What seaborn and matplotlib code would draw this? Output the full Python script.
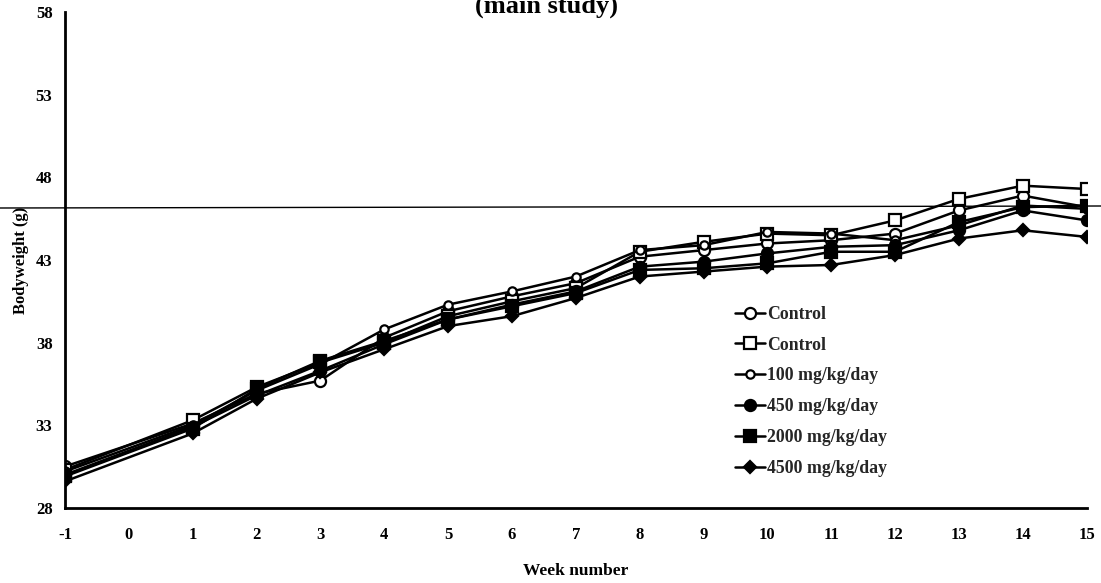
import matplotlib
matplotlib.use("Agg")
import matplotlib.pyplot as plt
import seaborn as sns
import pandas as pd
from matplotlib.lines import Line2D

weeks = [-1, 1, 2, 3, 4, 5, 6, 7, 8, 9, 10, 11, 12, 13, 14, 15]
control_circle = [30.5, 33.1, 34.9, 35.7, 38.3, 39.9, 40.8, 41.6, 43.2, 43.6, 44.0, 44.2, 44.6, 46.0, 46.9, 46.2]
control_square = [30.3, 33.3, 35.3, 36.8, 38.0, 39.6, 40.5, 41.3, 43.5, 44.1, 44.6, 44.5, 45.4, 46.7, 47.5, 47.3]
dose_100 = [30.2, 33.0, 35.1, 36.7, 38.8, 40.3, 41.1, 42.0, 43.6, 43.9, 44.7, 44.6, 44.2, 45.1, 46.3, 46.1]
dose_450 = [30.0, 32.9, 34.8, 36.3, 37.9, 39.4, 40.3, 41.1, 42.6, 42.9, 43.4, 43.8, 43.9, 44.8, 46.0, 45.4]
dose_2000 = [29.9, 32.8, 35.2, 36.9, 38.1, 39.4, 40.2, 41.0, 42.4, 42.5, 42.8, 43.5, 43.5, 45.3, 46.2, 46.3]
dose_4500 = [29.6, 32.5, 34.6, 36.2, 37.6, 39.0, 39.6, 40.7, 42.0, 42.3, 42.6, 42.7, 43.3, 44.3, 44.8, 44.4]

labels = ["Control", "Control", "100 mg/kg/day", "450 mg/kg/day", "2000 mg/kg/day", "4500 mg/kg/day"]
series = [control_circle, control_square, dose_100, dose_450, dose_2000, dose_4500]
xtick_labels = ["-1", "0", "1", "2", "3", "4", "5", "6", "7", "8", "9", "10", "11", "12", "13", "14", "15"]
ytick_values = [28, 33, 38, 43, 48, 53, 58]

styles = [
    dict(marker="o", markersize=8, markerfacecolor="white"),
    dict(marker="s", markersize=8, markerfacecolor="white"),
    dict(marker="o", markersize=6, markerfacecolor="white"),
    dict(marker="o", markersize=8, markerfacecolor="black"),
    dict(marker="s", markersize=8, markerfacecolor="black"),
    dict(marker="D", markersize=6, markerfacecolor="black"),
]

sns.set_theme(style="white")
plt.rcParams["font.family"] = ["Liberation Serif", "DejaVu Serif"]
plt.rcParams["font.weight"] = "bold"

fig = plt.figure(figsize=(11.01, 5.83), dpi=100)
ax = fig.add_axes([0.059, 0.129, 0.928, 0.850])

for lab, vals, st in zip(labels, series, styles):
    df = pd.DataFrame({"week": weeks, "weight": vals})
    sns.lineplot(data=df, x="week", y="weight", ax=ax, color="black", linewidth=1.8,
                 markeredgecolor="black", markeredgewidth=1.6, label=lab, **st)

ax.set_xlim(-1, 15)
ax.set_ylim(28, 58)
ax.set_xticks(range(-1, 16))
ax.set_xticklabels(xtick_labels)
ax.set_yticks(ytick_values)
ax.set_yticklabels([str(v) for v in ytick_values])
for s in ["top", "right"]:
    ax.spines[s].set_visible(False)
for s in ["left", "bottom"]:
    ax.spines[s].set_color("black")
    ax.spines[s].set_linewidth(2)
ax.tick_params(axis="both", which="major", direction="out", length=4, width=1.5,
               color="black", labelsize=12, labelcolor="black")
ax.tick_params(axis="x", pad=10)
ax.tick_params(axis="y", pad=5)
for t in ax.get_xticklabels() + ax.get_yticklabels():
    t.set_fontweight("bold")

ax.set_xlabel("Week number", fontsize=12.5, fontweight="bold", color="black", labelpad=14)
ax.set_ylabel("Bodyweight (g)", fontsize=12, fontweight="bold", color="black", labelpad=5)

leg = ax.legend(loc="upper left", bbox_to_anchor=(0.64, 0.44), frameon=False,
                fontsize=12.8, labelspacing=0.78, handlelength=1.7, handletextpad=0.1)
for t in leg.get_texts():
    t.set_fontweight("bold")

# scan artifact line across the figure
fig.add_artist(Line2D([0, 1], [1 - 208 / 583, 1 - 206 / 583], transform=fig.transFigure,
                      color="black", linewidth=1.0))

fig.text(0.496, 1 - 13 / 583, "(main study)", ha="center", va="baseline",
         fontsize=19, fontweight="bold", color="black")

fig.savefig("out.png", dpi=100)
